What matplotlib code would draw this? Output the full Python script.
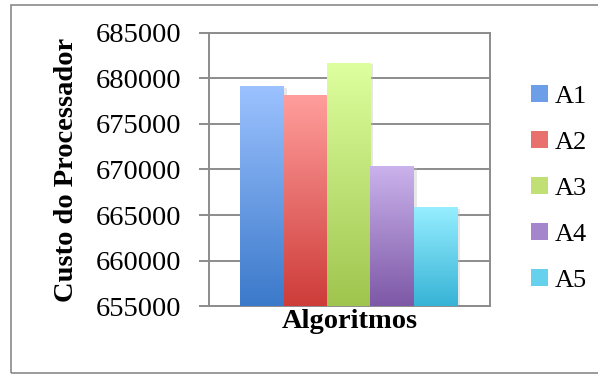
import numpy as np
import matplotlib
matplotlib.use("Agg")
import matplotlib.pyplot as plt
from matplotlib.patches import Rectangle, Patch
from matplotlib.colors import LinearSegmentedColormap

# Custo do processador por algoritmo
algoritmos = ["A1", "A2", "A3", "A4", "A5"]
custos = [679100, 678100, 681700, 670300, 665800]

# (topo, base) de cada gradiente
cores_topo = ["#9cc2ff", "#ff9e9c", "#ddff9e", "#cab2ec", "#96eeff"]
cores_base = ["#3b79ca", "#cd3c39", "#9fc54e", "#7d58a6", "#37b3d6"]
cores_legenda = ["#6d9ee8", "#e8706d", "#c0e076", "#a585cc", "#66d1ec"]

y_ticks = [655000, 660000, 665000, 670000, 675000, 680000, 685000]
base = 655000

plt.rcParams["font.family"] = "Liberation Serif"

fig = plt.figure(figsize=(5.98, 3.74), dpi=100)
ax = fig.add_axes([0.3495, 0.1818, 0.4699, 0.7300])

# borda externa do grafico
fig.patches.append(Rectangle((11 / 598, 1 / 374), 590 / 598, 368 / 374,
                             transform=fig.transFigure, fill=False,
                             edgecolor="#8a8a8a", linewidth=1.2))

largura = 1.0
for i, (valor, c1, c2) in enumerate(zip(custos, cores_topo, cores_base)):
    x0 = i - 2 - largura / 2
    # sombra leve a direita
    ax.add_patch(Rectangle((x0 + 0.07, base), largura, valor - base - 150,
                           facecolor="#bdbdbd", alpha=0.35, edgecolor="none",
                           zorder=2))
    cmap = LinearSegmentedColormap.from_list("g%d" % i, [c2, c1])
    grad = np.linspace(0, 1, 256).reshape(-1, 1)
    ax.imshow(grad, cmap=cmap, origin="lower", aspect="auto",
              extent=(x0, x0 + largura, base, valor), zorder=3,
              interpolation="bilinear")

ax.set_xlim(-3.22, 3.26)
ax.set_ylim(655000, 685000)
ax.set_yticks(y_ticks)
ax.set_yticklabels([str(v) for v in y_ticks], fontsize=20.5)
ax.set_xticks([])
ax.yaxis.grid(True, color="#8c8c8c", linewidth=1.4)
ax.set_axisbelow(True)
for lado in ["left", "right", "top", "bottom"]:
    ax.spines[lado].set_color("#8c8c8c")
    ax.spines[lado].set_linewidth(1.4)
ax.tick_params(axis="y", direction="out", length=7, width=1.4,
               color="#8c8c8c", pad=13)

ax.set_ylabel("Custo do Processador", fontsize=20.5, fontweight="bold",
              labelpad=12)
ax.set_xlabel("Algoritmos", fontsize=20.5, fontweight="bold", labelpad=2)

handles = [Patch(facecolor=c, edgecolor="none") for c in cores_legenda]
ax.legend(handles, algoritmos, loc="center left", bbox_to_anchor=(1.11, 0.43),
          frameon=False, fontsize=19, handlelength=0.62, handleheight=0.62,
          handletextpad=0.25, labelspacing=0.88, borderaxespad=0)

fig.savefig("out.png", dpi=100)
